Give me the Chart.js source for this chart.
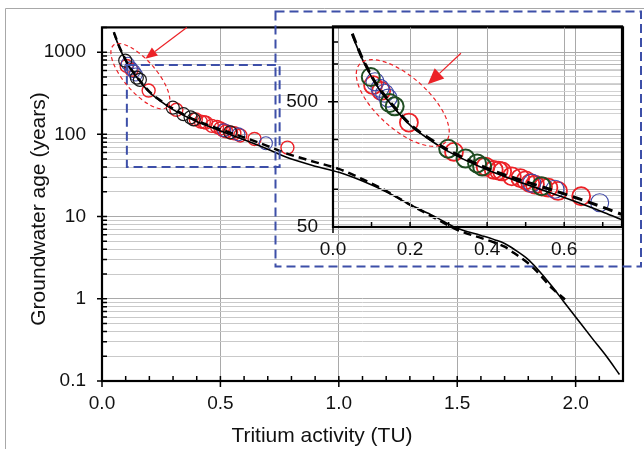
<!DOCTYPE html>
<html>
<head>
<meta charset="utf-8">
<script src="https://cdn.jsdelivr.net/npm/chart.js@4.4.0/dist/chart.umd.min.js"></script>
<style>
  html, body { margin: 0; padding: 0; background: #fff; }
  #wrap { position: relative; width: 644px; height: 449px; }
  #wrap canvas { position: absolute; left: 0; top: 0; }
  #inset-chart { pointer-events: none; }
</style>
</head>
<body>
<div id="wrap">
  <canvas id="main-chart" width="644" height="449"></canvas>
  <canvas id="inset-chart" width="644" height="449"></canvas>
</div>
<script>
/* values */

// measured samples (tritium TU, age years)
const greenTU  = [0.098, 0.147, 0.160, 0.299, 0.344, 0.374, 0.387, 0.541];
const greenAge = [789, 489, 460, 211, 176, 161, 152, 106];
const blueTU   = [0.109, 0.122, 0.134, 0.143, 0.516, 0.576, 0.692];
const blueAge  = [722, 640, 585, 535, 112, 100, 78];
const redTU    = [0.104, 0.125, 0.197, 0.314, 0.396, 0.417, 0.430, 0.439, 0.464, 0.486, 0.500, 0.512, 0.524, 0.545, 0.559, 0.584, 0.644, 0.783];
const redAge   = [679, 610, 341, 199, 152, 143, 141, 139, 127, 123, 118, 112, 109, 105, 103, 97, 88, 69];

// model curves
const solidTU  = [0.05, 0.075, 0.09, 0.1, 0.12, 0.15, 0.2, 0.25, 0.3, 0.4, 0.5, 0.6, 0.7, 0.75, 0.8, 0.9, 1.0, 1.1, 1.2, 1.3, 1.4, 1.5, 1.6, 1.66, 1.7, 1.74, 1.8, 1.83, 1.9, 1.95, 2.0, 2.07, 2.13, 2.185];
const solidAge = [1700, 1110, 900, 790, 630, 480, 325, 250, 200, 143, 110, 86, 66, 57, 50, 41, 34.5, 27, 20, 14, 10.2, 7.2, 5.9, 5.2, 4.7, 4.0, 3.0, 2.45, 1.42, 0.92, 0.6, 0.33, 0.2, 0.12];
const dashTU   = [0.05, 0.075, 0.09, 0.1, 0.12, 0.15, 0.2, 0.25, 0.3, 0.4, 0.5, 0.6, 0.7, 0.75, 0.8, 0.9, 1.0, 1.1, 1.2, 1.3, 1.4, 1.5, 1.6, 1.66, 1.7, 1.74, 1.8, 1.83, 1.9, 1.955];
const dashAge  = [1750, 1130, 920, 800, 640, 490, 330, 255, 205, 147, 115, 92, 72, 63, 56, 46, 38, 28.5, 20.5, 14, 9.8, 6.9, 5.5, 4.8, 4.3, 3.6, 2.7, 2.25, 1.35, 0.98];

// axes
const mainXTicks   = [0, 0.5, 1.0, 1.5, 2.0];
const mainYLabels  = [0.1, 1, 10, 100, 1000];
const mainYGrid    = [0.1, 0.2, 0.3, 0.4, 0.5, 0.6, 0.7, 0.8, 0.9, 1, 2, 3, 4, 5, 6, 7, 8, 9, 10, 20, 30, 40, 50, 60, 70, 80, 90, 100, 200, 300, 400, 500, 600, 700, 800, 900, 1000, 2000];
const insetXTicks  = [0, 0.2, 0.4, 0.6];
const insetYLabels = [50, 500];
const insetYGrid   = [50, 60, 70, 80, 90, 100, 200, 300, 400, 500, 600, 700, 800, 900, 1000, 2000];
const insetYMarks  = [100, 250, 1000, 1500];

const RED = '#ec2227', BLUE = '#3f48a6', GREEN = '#1f4d22', BOXBLUE = '#3d4fa8';

Chart.defaults.font.family = '"Liberation Sans", Arial, sans-serif';
Chart.defaults.color = '#111';

function toPoints(xs, ys) {
    return xs.map((x, i) => ({ x: x, y: ys[i] }));
}

function makeDatasets(inset) {
    const r = inset ? 9 : 6.5;
    const clip = inset ? 0 : undefined;
    return [
        { data: toPoints(dashTU, dashAge), showLine: true, pointRadius: 0, borderColor: '#000',
          borderWidth: inset ? 3 : 2.5, borderDash: inset ? [10, 6] : [8, 5], cubicInterpolationMode: 'monotone', clip: clip },
        { data: toPoints(solidTU, solidAge), showLine: true, pointRadius: 0, borderColor: '#000',
          borderWidth: 1.6, cubicInterpolationMode: 'monotone', clip: clip },
        { data: toPoints(greenTU, greenAge), pointRadius: r, pointBorderColor: inset ? GREEN : '#1a1a1a',
          pointBackgroundColor: 'rgba(0,0,0,0)', pointBorderWidth: inset ? 2 : 1.2, clip: clip },
        { data: toPoints(blueTU, blueAge), pointRadius: r, pointBorderColor: BLUE,
          pointBackgroundColor: 'rgba(0,0,0,0)', pointBorderWidth: 1.1, clip: clip },
        { data: toPoints(redTU, redAge), pointRadius: r, pointBorderColor: RED,
          pointBackgroundColor: 'rgba(0,0,0,0)', pointBorderWidth: inset ? 1.8 : 1.4, clip: clip }
    ];
}

// ticks, frame, boxes, ellipses, arrows, titles
const decor = {
    id: 'decor',
    afterDraw(chart, args, o) {
        const ctx = chart.ctx, a = chart.chartArea;
        const px = v => chart.scales.x.getPixelForValue(v);
        const py = v => chart.scales.y.getPixelForValue(v);
        ctx.save();

        if (o.outer) {
            ctx.strokeStyle = '#a8a8a8'; ctx.lineWidth = 1;
            ctx.beginPath(); ctx.moveTo(5.5, 449); ctx.lineTo(5.5, 8.5); ctx.lineTo(644, 8.5); ctx.stroke();
        }

        // tick marks
        ctx.strokeStyle = '#000'; ctx.lineWidth = 1.5;
        ctx.beginPath();
        for (let v = o.xMinorStep; v < chart.scales.x.max; v += o.xMinorStep) {
            const x = px(v); ctx.moveTo(x, a.bottom); ctx.lineTo(x, a.bottom - 5);
        }
        o.xMajor.forEach(v => { const x = px(v); ctx.moveTo(x, a.bottom - 5); ctx.lineTo(x, a.bottom + 6); });
        o.yMinor.forEach(v => { const y = py(v); ctx.moveTo(a.left, y); ctx.lineTo(a.left + 5, y); });
        o.yMajor.forEach(v => { const y = py(v); ctx.moveTo(a.left - 5, y); ctx.lineTo(a.left + 5, y); });
        ctx.stroke();

        ctx.lineWidth = 2.2;
        ctx.strokeRect(a.left, a.top, a.right - a.left, a.bottom - a.top);

        // blue dashed boxes
        ctx.strokeStyle = BOXBLUE; ctx.lineWidth = 2; ctx.setLineDash([9, 5]);
        if (o.zoomBox) {
            const b = o.zoomBox;
            ctx.strokeRect(px(b[0]), py(b[3]), px(b[1]) - px(b[0]), py(b[2]) - py(b[3]));
        }
        if (o.insetFrame) {
            const f = o.insetFrame;
            ctx.strokeRect(f[0], f[1], f[2] - f[0], f[3] - f[1]);
        }

        // red ellipse + arrow
        if (o.ellipse) {
            const e = o.ellipse;
            ctx.strokeStyle = RED; ctx.lineWidth = 1.2; ctx.setLineDash([4, 3]);
            ctx.beginPath();
            ctx.ellipse(px(e.x), py(e.y), e.rx, e.ry, e.angle * Math.PI / 180, 0, Math.PI * 2);
            ctx.stroke();
        }
        if (o.arrow) {
            const w = o.arrow;
            const x0 = px(w.from[0]), y0 = py(w.from[1]), x1 = px(w.to[0]), y1 = py(w.to[1]);
            const ang = Math.atan2(y1 - y0, x1 - x0);
            const bx = x1 - w.head * Math.cos(ang), by = y1 - w.head * Math.sin(ang);
            ctx.setLineDash([]); ctx.strokeStyle = RED; ctx.fillStyle = RED; ctx.lineWidth = 1.2;
            ctx.beginPath(); ctx.moveTo(x0, y0); ctx.lineTo(bx, by); ctx.stroke();
            ctx.beginPath();
            ctx.moveTo(x1, y1);
            ctx.lineTo(bx + w.half * Math.sin(ang), by - w.half * Math.cos(ang));
            ctx.lineTo(bx - w.half * Math.sin(ang), by + w.half * Math.cos(ang));
            ctx.closePath(); ctx.fill();
        }

        // axis titles
        if (o.titles) {
            ctx.setLineDash([]);
            ctx.fillStyle = '#111';
            ctx.font = '21px "Liberation Sans", Arial, sans-serif';
            ctx.textAlign = 'center'; ctx.textBaseline = 'alphabetic';
            ctx.fillText(o.titles.x, 322, 442);
            ctx.translate(45, 209);
            ctx.rotate(-Math.PI / 2);
            ctx.fillText(o.titles.y, 0, 0);
        }
        ctx.restore();
    }
};

function gridColor(majors, strong, weak) {
    return c => (c.tick && majors.includes(c.tick.value)) ? strong : weak;
}

// main chart
const mainChart = new Chart(document.getElementById('main-chart'), {
    type: 'scatter',
    data: { datasets: makeDatasets(false) },
    plugins: [decor],
    options: {
        responsive: false, animation: false, devicePixelRatio: 1, events: [],
        layout: { padding: { left: 0, right: 21, top: 22, bottom: 0 } },
        plugins: {
            legend: { display: false }, tooltip: { enabled: false },
            decor: {
                outer: true,
                xMinorStep: 0.1, xMajor: mainXTicks,
                yMinor: mainYGrid, yMajor: mainYLabels,
                zoomBox: [0.105, 0.75, 40, 700],
                insetFrame: [275.5, 11.5, 641, 266.5],
                ellipse: { x: 0.162, y: 510, rx: 41, ry: 16, angle: 49 },
                arrow: { from: [0.358, 2000], to: [0.183, 830], head: 12, half: 5 },
                titles: { x: 'Tritium activity (TU)', y: 'Groundwater age (years)' }
            }
        },
        scales: {
            x: {
                type: 'linear', min: 0, max: 2.2,
                afterBuildTicks: s => { s.ticks = mainXTicks.map(v => ({ value: v })); },
                afterFit: s => { s.height = 68; },
                ticks: { callback: v => v.toFixed(1), font: { size: 19 }, padding: 11, maxRotation: 0, autoSkip: false },
                grid: { color: '#a9a9a9', lineWidth: 1, drawTicks: false },
                border: { display: false }
            },
            y: {
                type: 'logarithmic', min: 0.1, max: 2000,
                afterBuildTicks: s => { s.ticks = mainYGrid.map(v => ({ value: v })); },
                afterFit: s => { s.width = 102; },
                ticks: { callback: v => mainYLabels.includes(v) ? String(v) : '', font: { size: 19 }, padding: 16, autoSkip: false },
                grid: { color: gridColor(mainYLabels, '#a9a9a9', '#c9c9c9'), lineWidth: 1, drawTicks: false },
                border: { display: false }
            }
        }
    }
});

// inset chart, drawn on a transparent canvas on top
const insetChart = new Chart(document.getElementById('inset-chart'), {
    type: 'scatter',
    data: { datasets: makeDatasets(true) },
    plugins: [decor],
    options: {
        responsive: false, animation: false, devicePixelRatio: 1, events: [],
        layout: { padding: { left: 283, right: 22, top: 21, bottom: 186 } },
        plugins: {
            legend: { display: false }, tooltip: { enabled: false },
            decor: {
                xMinorStep: 0.1, xMajor: [0],
                yMinor: insetYMarks, yMajor: [500],
                ellipse: { x: 0.181, y: 489, rx: 58, ry: 26, angle: 42 },
                arrow: { from: [0.332, 1220], to: [0.246, 690], head: 16, half: 7 }
            }
        },
        scales: {
            x: {
                type: 'linear', min: 0, max: 0.75,
                afterBuildTicks: s => { s.ticks = insetXTicks.map(v => ({ value: v })); },
                afterFit: s => { s.height = 36; },
                ticks: { callback: v => v.toFixed(1), font: { size: 19 }, padding: 11, maxRotation: 0, autoSkip: false },
                grid: { color: '#a9a9a9', lineWidth: 1, drawTicks: false },
                border: { display: false }
            },
            y: {
                type: 'logarithmic', min: 50, max: 2000,
                afterBuildTicks: s => { s.ticks = insetYGrid.map(v => ({ value: v })); },
                afterFit: s => { s.width = 50; },
                ticks: { callback: v => insetYLabels.includes(v) ? String(v) : '', font: { size: 19 }, padding: 15, autoSkip: false },
                grid: { color: gridColor([100, 1000], '#b5b5b5', '#d2d2d2'), lineWidth: 1, drawTicks: false },
                border: { display: false }
            }
        }
    }
});
</script>
</body>
</html>
